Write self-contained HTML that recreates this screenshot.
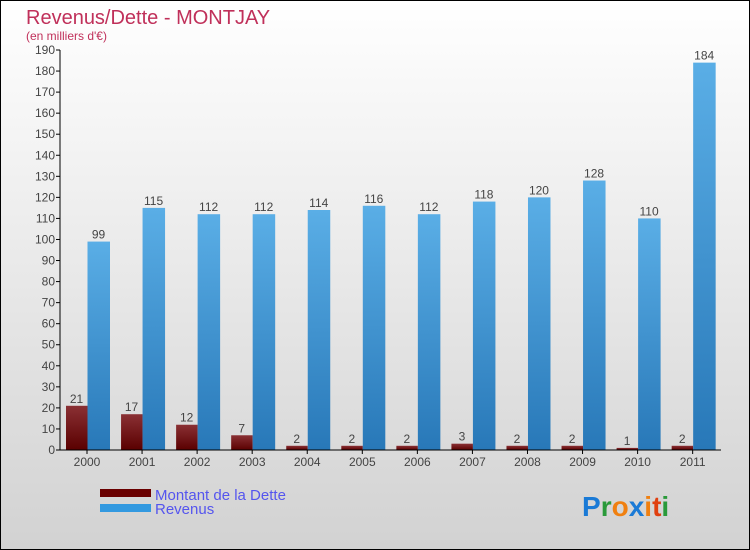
<!DOCTYPE html>
<html><head><meta charset="utf-8"><style>
body{margin:0;width:750px;height:550px;overflow:hidden;font-family:"Liberation Sans",sans-serif}
svg{display:block}
</style></head><body>
<svg width="750" height="550">
<defs>
<linearGradient id="bg" x1="0" y1="0" x2="0" y2="1"><stop offset="0" stop-color="#ffffff"/><stop offset="1" stop-color="#d2d2d2"/></linearGradient>
<linearGradient id="gd" x1="0" y1="0" x2="0" y2="1"><stop offset="0" stop-color="#8a3034"/><stop offset="1" stop-color="#5a0000"/></linearGradient>
<linearGradient id="gr" x1="0" y1="0" x2="0" y2="1"><stop offset="0" stop-color="#5aaee6"/><stop offset="1" stop-color="#2878b8"/></linearGradient>
</defs>
<rect x="0.5" y="0.5" width="749" height="549" fill="url(#bg)" stroke="#000"/>
<text x="26" y="24" font-size="20" fill="#c0305a">Revenus/Dette - MONTJAY</text>
<text x="26" y="40" font-size="12" fill="#c0305a">(en milliers d'€)</text>
<g id="plot"></g>
<g>
<rect x="100" y="489" width="51" height="8" fill="#6a0000"/>
<text x="155" y="500" font-size="15" fill="#5555ee">Montant de la Dette</text>
<rect x="100" y="504" width="51" height="8" fill="#3399e0"/>
<text x="155" y="514" font-size="15" fill="#5555ee">Revenus</text>
</g>
<g font-size="28" font-weight="bold">
<text x="582" y="516"><tspan fill="#1a7ad6">P</tspan><tspan fill="#2a9a3a">r</tspan><tspan fill="#f08010">o</tspan><tspan fill="#1a7ad6">x</tspan><tspan fill="#f08010">i</tspan><tspan fill="#e04010">t</tspan><tspan fill="#2a9a3a">i</tspan></text>
</g>
</svg>
<script>
const categories=["2000","2001","2002","2003","2004","2005","2006","2007","2008","2009","2010","2011"];
const dette=[21,17,12,7,2,2,2,3,2,2,1,2];
const revenus=[99,115,112,112,114,116,112,118,120,128,110,184];
const yTicks=[0,10,20,30,40,50,60,70,80,90,100,110,120,130,140,150,160,170,180,190];
const NS="http://www.w3.org/2000/svg";
const g=document.getElementById('plot');
const x0=59.5,band=55.06,y0=450,yMax=190,yTop=50;
function y(v){return y0-v/yMax*(y0-yTop);}
function bx(i){return x0+i*band;}
function mk(t,a,txt){const e=document.createElementNS(NS,t);for(const k in a)e.setAttribute(k,a[k]);if(txt!==undefined)e.textContent=txt;g.appendChild(e);return e;}
yTicks.forEach(v=>{
 const l=mk('line',{x1:56,x2:60,y1:y(v),y2:y(v),stroke:'#000'});
 
 
 const t=mk('text',{x:55,y:y(v)+4,'text-anchor':'end','font-size':12,fill:'#444'},v);
 
 
});
categories.forEach((c,i)=>{
 const b=bx(i);
 const d=mk('rect',{x:b+6.5,y:y(dette[i]),width:21.5,height:y0-y(dette[i]),fill:'url(#gd)'});
 
 
 const r=mk('rect',{x:b+28,y:y(revenus[i]),width:22.5,height:y0-y(revenus[i]),fill:'url(#gr)'});
 
 
 const dl=mk('text',{x:b+17,y:y(dette[i])-3,'text-anchor':'middle','font-size':12,fill:'#444'},dette[i]);
 
 
 const rl=mk('text',{x:b+39,y:y(revenus[i])-3,'text-anchor':'middle','font-size':12,fill:'#444'},revenus[i]);
 
 
 const tk=mk('line',{x1:b+27.5,x2:b+27.5,y1:450,y2:454,stroke:'#000'});
 
 
 const xl=mk('text',{x:b+27.5,y:466,'text-anchor':'middle','font-size':12,fill:'#444'},c);
 
 
});
const ya=mk('line',{x1:60,x2:60,y1:50,y2:450,stroke:'#000'});


const xa=mk('line',{x1:60,x2:721,y1:450,y2:450,stroke:'#000'});


</script>
</body></html>
